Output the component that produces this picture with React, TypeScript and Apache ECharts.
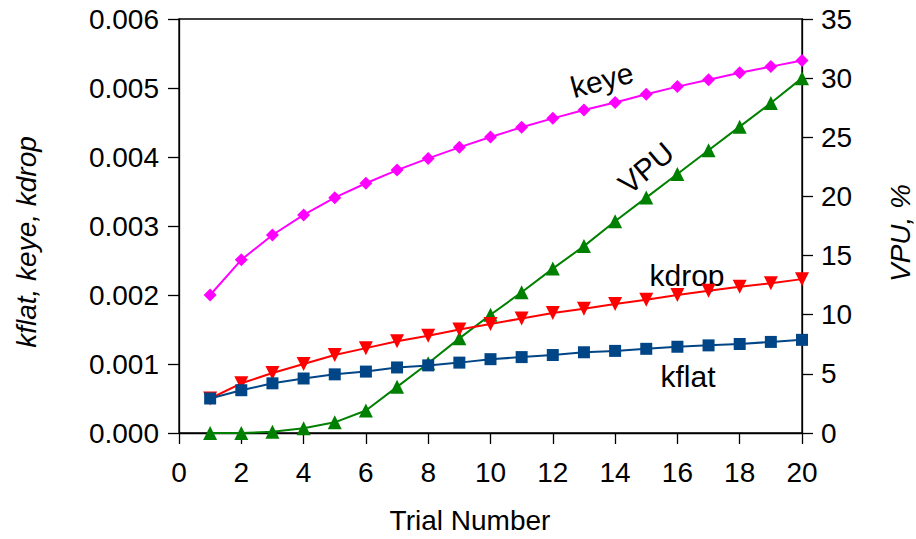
import React, { useEffect, useRef } from "react";
import * as echarts from "echarts";

// Trial numbers on the horizontal axis
const trials = [1, 2, 3, 4, 5, 6, 7, 8, 9, 10, 11, 12, 13, 14, 15, 16, 17, 18, 19, 20];

// Rate constants (left axis)
const kflat = [0.0005, 0.00062, 0.00072, 0.00079, 0.00085, 0.00089, 0.00095, 0.00098, 0.00102, 0.00107,
  0.0011, 0.00113, 0.00117, 0.00119, 0.00122, 0.00125, 0.00127, 0.00129, 0.00132, 0.00135];
const keye = [0.002, 0.00251, 0.00287, 0.00316, 0.00341, 0.00362, 0.00381, 0.00398, 0.00414, 0.00429,
  0.00443, 0.00456, 0.00468, 0.00479, 0.00491, 0.00502, 0.00512, 0.00522, 0.00531, 0.0054];
const kdrop = [0.0005, 0.00072, 0.00087, 0.001, 0.00113, 0.00123, 0.00133, 0.00141, 0.0015, 0.00158,
  0.00166, 0.00174, 0.0018, 0.00187, 0.00193, 0.002, 0.00206, 0.00212, 0.00217, 0.00223];

// VPU in percent (right axis)
const vpu = [0, 0, 0.1, 0.4, 0.9, 1.9, 3.9, 5.9, 8.0, 10.0, 11.9, 13.9, 15.8, 17.9, 19.9, 21.9, 23.9, 25.9, 27.9, 30.0];

const FONT = "'Liberation Sans', Arial, sans-serif";

const pairs = (ys: number[]) => trials.map((t, i) => [t, ys[i]]);

export default function App() {
  const ref = useRef<HTMLDivElement>(null);

  useEffect(() => {
    if (!ref.current) return;
    const chart = echarts.init(ref.current, undefined, { renderer: "svg" });

    const axisText = { fontFamily: FONT, fontSize: 28, color: "#000" };
    const axisLine = { show: true, lineStyle: { color: "#000", width: 1.3 } };

    const lineSeries = (
      name: string,
      data: number[][],
      color: string,
      symbol: string,
      size: number,
      yAxisIndex: number,
      rotate = 0
    ) => ({
      name,
      type: "line",
      data,
      yAxisIndex,
      symbol,
      symbolSize: size,
      symbolRotate: rotate,
      showAllSymbol: true,
      lineStyle: { color, width: 2 },
      itemStyle: { color },
      emphasis: { disabled: true },
    });

    chart.setOption({
      animation: false,
      backgroundColor: "#fff",
      grid: {
        left: 179,
        right: 114,
        top: 19,
        bottom: 106,
        show: true,
        borderColor: "#000",
        borderWidth: 1.3,
      },
      xAxis: {
        type: "value",
        min: 0,
        max: 20,
        interval: 2,
        axisLine: { ...axisLine, onZero: false },
        axisTick: { show: true, length: 11, lineStyle: { color: "#000", width: 1.3 } },
        axisLabel: { ...axisText, margin: 25 },
        splitLine: { show: false },
      },
      yAxis: [
        {
          type: "value",
          min: 0,
          max: 0.006,
          interval: 0.001,
          position: "left",
          axisLine,
          axisTick: { show: true, length: 11, lineStyle: { color: "#000", width: 1.3 } },
          axisLabel: { ...axisText, margin: 20, formatter: (v: number) => v.toFixed(3) },
          splitLine: { show: false },
        },
        {
          type: "value",
          min: 0,
          max: 35,
          interval: 5,
          position: "right",
          axisLine,
          axisTick: { show: true, length: 11, lineStyle: { color: "#000", width: 1.3 } },
          axisLabel: { ...axisText, margin: 19 },
          splitLine: { show: false },
        },
      ],
      series: [
        lineSeries("keye", pairs(keye), "#ff00ff", "diamond", 13, 0),
        lineSeries("VPU", pairs(vpu), "#008000", "triangle", 14, 1),
        lineSeries("kdrop", pairs(kdrop), "#ff0000", "triangle", 14, 0, 180),
        lineSeries("kflat", pairs(kflat), "#004586", "rect", 12, 0),
      ],
      graphic: [
        {
          type: "text",
          x: 26,
          y: 242,
          rotation: Math.PI / 2,
          style: {
            text: "kflat, keye, kdrop",
            font: `italic 28px ${FONT}`,
            fill: "#000",
            align: "center",
            verticalAlign: "middle",
          },
        },
        {
          type: "text",
          x: 900,
          y: 233,
          rotation: Math.PI / 2,
          style: {
            text: "VPU, %",
            font: `italic 28px ${FONT}`,
            fill: "#000",
            align: "center",
            verticalAlign: "middle",
          },
        },
        {
          type: "text",
          x: 470,
          y: 520,
          style: {
            text: "Trial Number",
            font: `28px ${FONT}`,
            fill: "#000",
            align: "center",
            verticalAlign: "middle",
          },
        },
        {
          type: "text",
          x: 602,
          y: 80,
          rotation: (15 * Math.PI) / 180,
          style: { text: "keye", font: `30px ${FONT}`, fill: "#000", align: "center", verticalAlign: "middle" },
        },
        {
          type: "text",
          x: 646,
          y: 168,
          rotation: (40 * Math.PI) / 180,
          style: { text: "VPU", font: `30px ${FONT}`, fill: "#000", align: "center", verticalAlign: "middle" },
        },
        {
          type: "text",
          x: 687,
          y: 275,
          style: { text: "kdrop", font: `30px ${FONT}`, fill: "#000", align: "center", verticalAlign: "middle" },
        },
        {
          type: "text",
          x: 688,
          y: 376,
          style: { text: "kflat", font: `30px ${FONT}`, fill: "#000", align: "center", verticalAlign: "middle" },
        },
      ],
    });

    return () => chart.dispose();
  }, []);

  return (
    <div
      ref={ref}
      style={{ position: "fixed", left: 0, top: 0, width: 916, height: 539, background: "#fff" }}
    />
  );
}
